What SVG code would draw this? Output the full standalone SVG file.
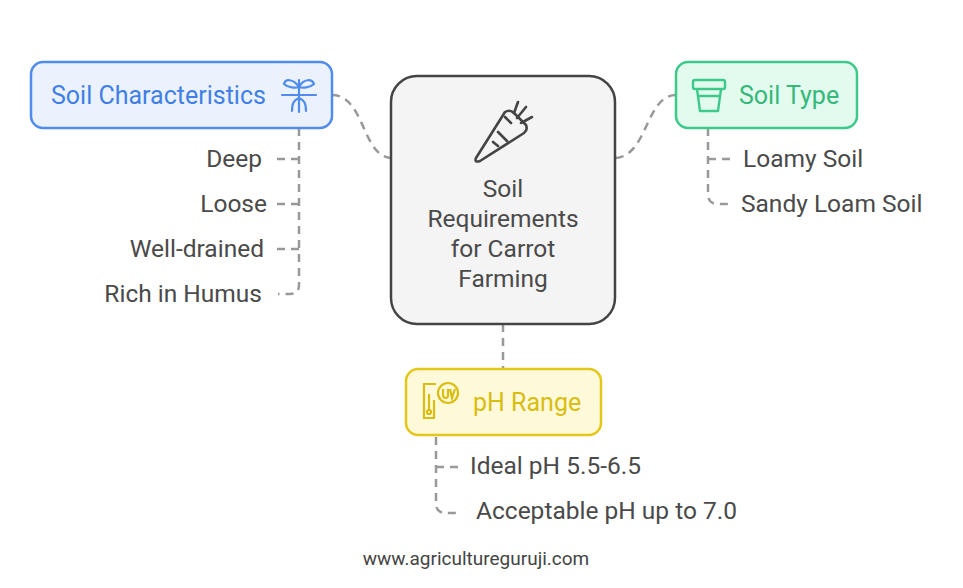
<svg xmlns="http://www.w3.org/2000/svg" width="963" height="588" viewBox="0 0 963 588">
<style>
text{font-family:Roboto,"Liberation Sans",sans-serif;}
.lbl{font-size:24.5px;fill:#4a4a4a;}
.c{fill:none;stroke:#999;stroke-width:2.5;stroke-dasharray:8 6;}
</style>
<rect width="963" height="588" fill="#fff"/>
<g id="connectors">
<path class="c" d="M332 95 C365 95 362 158 392 158"/>
<path class="c" d="M676 95 C645 95 648 158 614 158"/>
<path class="c" d="M503 324 V370"/>
<path class="c" d="M299 128 V285 Q299 294 290 294 H278"/>
<path class="c" d="M299 159 H277 M299 204 H277 M299 249 H277"/>
<path class="c" d="M708 128 V194 Q708 204 718 204 H730"/>
<path class="c" d="M708 159 H730"/>
<path class="c" d="M436 437 V503 Q436 513 446 513 H460"/>
<path class="c" d="M436 467 H458"/>
</g>
<g id="center">
<rect x="391" y="76" width="224" height="248" rx="26" fill="#f4f4f4" stroke="#444" stroke-width="2.5"/>
<g fill="none" stroke="#444" stroke-width="2.6" stroke-linecap="round" stroke-linejoin="round">
<path d="M476 158 L505 112 Q510 109 514 113 L526 125 Q528 130 524 133 L480 161 Q474 163 476 158 Z"/>
<path d="M514 113 L518 102 M517 118 L526 107 M521 123 L532 117 M505 117 L511 123 M498 132 L507 141 M493 142 L498 146"/>
</g>
<text x="503" y="197" text-anchor="middle" class="lbl">Soil</text>
<text x="503" y="227" text-anchor="middle" class="lbl">Requirements</text>
<text x="503" y="257" text-anchor="middle" class="lbl">for Carrot</text>
<text x="503" y="287" text-anchor="middle" class="lbl">Farming</text>
</g>
<g id="soil-characteristics">
<rect x="31" y="62" width="301" height="66" rx="12" fill="#ebf2fd" stroke="#4f8ceb" stroke-width="2.5"/>
<text x="51" y="104" font-size="25" fill="#3f7fe6">Soil Characteristics</text>
<g fill="none" stroke="#4f8ceb" stroke-width="2.2" stroke-linecap="round">
<path d="M282 95 H316 M299 80 V112 M299 87 C293 78 285 79 284 84 C288 88 296 88 299 87 C304 78 312 79 314 84 C310 88 302 88 299 87 M299 98 C294 100 292 103 292 111 M299 98 C304 100 306 103 306 111"/>
</g>
</g>
<text x="262" y="167" text-anchor="end" class="lbl">Deep</text>
<text x="267" y="212" text-anchor="end" class="lbl">Loose</text>
<text x="264" y="257" text-anchor="end" class="lbl">Well-drained</text>
<text x="262" y="302" text-anchor="end" class="lbl">Rich in Humus</text>
<g id="soil-type">
<rect x="676" y="62" width="181" height="66" rx="12" fill="#e3fbee" stroke="#3dc98a" stroke-width="2.5"/>
<g fill="none" stroke="#3dc98a" stroke-width="2.4" stroke-linejoin="round">
<rect x="693" y="80" width="32" height="9" rx="2"/>
<path d="M697 89 L700 111 H718 L721 89 M698 96 H720"/>
</g>
<text x="739" y="104" font-size="25" fill="#35b87a">Soil Type</text>
</g>
<text x="743" y="167" class="lbl">Loamy Soil</text>
<text x="741" y="212" class="lbl">Sandy Loam Soil</text>
<g id="ph-range">
<rect x="406" y="369" width="195" height="66" rx="12" fill="#fef9d9" stroke="#e3c81a" stroke-width="2.5"/>
<g fill="none" stroke="#d9bd10" stroke-width="2.2">
<path d="M436 384 H424 V418 H434 V400"/>
<path d="M429 394 V410"/><circle cx="429" cy="412" r="2"/>
<circle cx="448" cy="393" r="10"/>
<path d="M443 389 V395 Q443 398 446 398 Q448 398 448 395 V389 M450 389 L452 398 L455 389"/>
</g>
<text x="473" y="411" font-size="25" fill="#d9bd10">pH Range</text>
</g>
<text x="470" y="474" class="lbl">Ideal pH 5.5-6.5</text>
<text x="476" y="519" class="lbl">Acceptable pH up to 7.0</text>
<text x="476" y="565" text-anchor="middle" font-size="19" fill="#444">www.agricultureguruji.com</text>
</svg>
